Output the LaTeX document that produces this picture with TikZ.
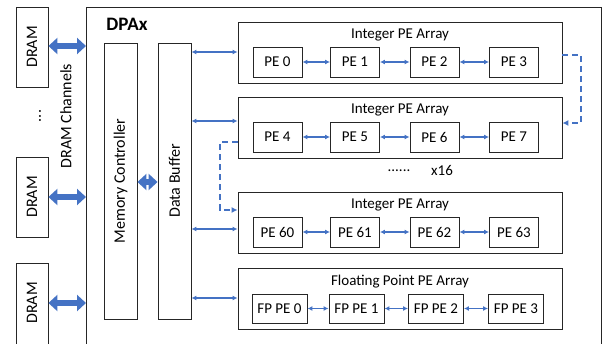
\documentclass[tikz,border=0pt]{standalone}
\usepackage{fontspec}
\setmainfont{Carlito}
\usetikzlibrary{arrows.meta,calc}
\definecolor{linkblue}{HTML}{4472C4}
\definecolor{edge}{HTML}{262626}
\tikzset{
  box/.style={draw=edge, line width=0.9pt, inner sep=0pt, anchor=center},
  arraybox/.style={box, minimum width=324pt, minimum height=61pt},
  pebox/.style={box, minimum width=49pt, minimum height=30pt, font=\fontsize{15}{15}\selectfont},
  fpbox/.style={box, minimum width=55pt, minimum height=29pt, font=\fontsize{15}{15}\selectfont},
  dram/.style={box, minimum width=32pt, minimum height=80pt},
  vtext/.style={rotate=90, font=\fontsize{16}{16}\selectfont},
  title/.style={font=\fontsize{15}{15}\selectfont, inner sep=0pt},
  thin link/.style={linkblue, line width=1.2pt, {Latex[length=5pt,width=5pt]}-{Latex[length=5pt,width=5pt]}},
  thick link/.style={linkblue, line width=6pt, {Triangle[length=9pt,width=16pt]}-{Triangle[length=9pt,width=16pt]}},
  chain/.style={linkblue, line width=1.2pt, dash pattern=on 6pt off 4pt, -{Latex[length=6pt,width=6pt]}},
}
\begin{document}
\begin{tikzpicture}[x=1pt,y=-1pt]
\useasboundingbox (0,0) rectangle (602,343);
\fill[white] (0,0) rectangle (602,343);
\clip (0,0) rectangle (602,343);

% accelerator outline and its label
\node[box, minimum width=515pt, minimum height=360pt, anchor=north west] (dpax) at (86,7) {};
\node[font=\bfseries\fontsize{19}{19}\selectfont, inner sep=0pt] (name) at (127,24) {DPAx};

% off-chip memories
\node[dram] (d1) at (32,47) {\rotatebox{90}{\fontsize{16}{16}\selectfont DRAM}};
\node[dram] (d2) at (32,197) {\rotatebox{90}{\fontsize{16}{16}\selectfont DRAM}};
\node[box, minimum width=32pt, minimum height=95pt, anchor=north] (d3) at (32,263) {};
\node[vtext, inner sep=0pt] (d3t) at (32,303) {DRAM};
\node[vtext, inner sep=0pt] (dots) at (40,116) {...};
\node[vtext, inner sep=0pt] (chan) at (66,116) {DRAM Channels};

% memory controller and data buffer
\node[box, minimum width=33pt, minimum height=276pt] (mc) at (120.5,181) {};
\node[vtext, inner sep=0pt] at (mc.center) {Memory Controller};
\node[box, minimum width=33pt, minimum height=276pt] (db) at (174.5,181) {};
\node[vtext, inner sep=0pt] at (db.center) {Data Buffer};

% DRAM channels
\draw[thick link] (d1.east |- 0,46) -- (dpax.west |- 0,46);
\draw[thick link] (d2.east |- 0,197) -- (dpax.west |- 0,197);
\draw[thick link] (d3.east |- 0,303) -- (dpax.west |- 0,303);
\draw[thick link] (mc.east |- 0,182) -- (db.west |- 0,182);

% PE arrays
\node[arraybox] (a1) at (400,52.5) {};
\node[arraybox] (a2) at (400,128) {};
\node[arraybox] (a3) at (400,223) {};
\node[arraybox] (a4) at (400,299) {};
\node[title] at (400,35) {Integer PE Array};
\node[title] at (400,110) {Integer PE Array};
\node[title] at (400,205) {Integer PE Array};
\node[title] at (400,282) {Floating Point PE Array};

\node[pebox] (p0) at (277.5,62) {PE 0};
\node[pebox] (p1) at (355,62) {PE 1};
\node[pebox] (p2) at (434.5,62) {PE 2};
\node[pebox] (p3) at (514,62) {PE 3};
\node[pebox] (p4) at (277.5,137) {PE 4};
\node[pebox] (p5) at (355,137) {PE 5};
\node[pebox] (p6) at (434.5,137) {PE 6};
\node[pebox] (p7) at (514,137) {PE 7};
\node[pebox] (p60) at (277.5,232) {PE 60};
\node[pebox] (p61) at (355,232) {PE 61};
\node[pebox] (p62) at (434.5,232) {PE 62};
\node[pebox] (p63) at (514,232) {PE 63};
\node[fpbox] (f0) at (279.5,308.5) {FP PE 0};
\node[fpbox] (f1) at (356.5,308.5) {FP PE 1};
\node[fpbox] (f2) at (436,308.5) {FP PE 2};
\node[fpbox] (f3) at (516,308.5) {FP PE 3};

\node[title] (more) at (399,171) {......};
\node[title] (rep) at (442,170) {x16};

% neighbour links inside the arrays
\foreach \a/\b in {p0/p1,p1/p2,p2/p3,p4/p5,p5/p6,p6/p7,p60/p61,p61/p62,p62/p63,f0/f1,f1/f2,f2/f3}
  \draw[thin link] (\a.east) -- (\b.west);

% data buffer to arrays
\draw[thin link] (db.east |- 0,52) -- (a1.west |- 0,52);
\draw[thin link] (db.east |- 0,121) -- (a2.west |- 0,121);
\draw[thin link] (db.east |- 0,229) -- (a3.west |- 0,229);
\draw[thin link] (db.east |- 0,298) -- (a4.west |- 0,298);

% chaining between consecutive arrays
\coordinate (c1) at (581,55);
\coordinate (c2) at (581,123);
\draw[chain] (a1.east |- c1) -- (c1) -- (c2) -- (a2.east |- c2);
\coordinate (c3) at (220,142);
\coordinate (c4) at (220,210);
\draw[chain] (a2.west |- c3) -- (c3) -- (c4) -- (a3.west |- c4);
\end{tikzpicture}
\end{document}
